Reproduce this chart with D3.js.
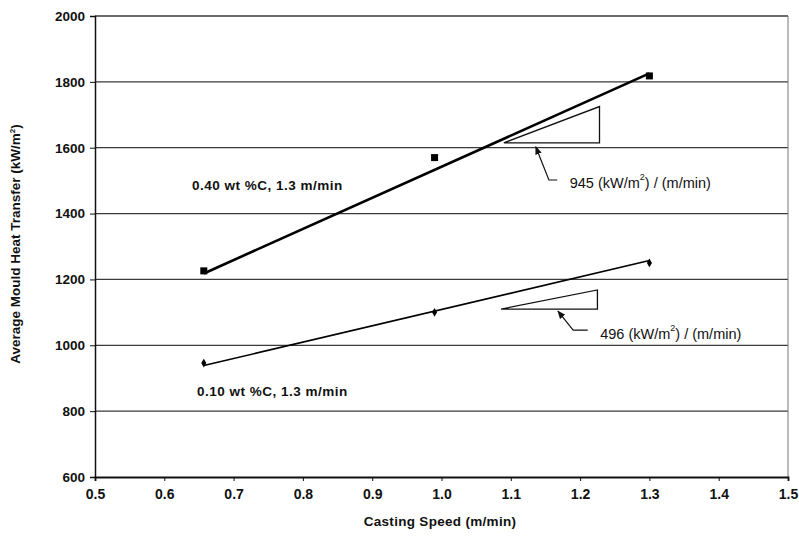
<!DOCTYPE html>
<html>
<head>
<meta charset="utf-8">
<script src="https://cdn.jsdelivr.net/npm/d3@7"></script>
<style>
  html, body { margin: 0; padding: 0; background: #fff; }
  svg { display: block; font-family: "Liberation Sans", Arial, sans-serif; }
</style>
</head>
<body>
<svg id="chart" width="799" height="537"></svg>
<script>
// Casting speed (m/min) and average mould heat transfer (kW/m2)
const speedsHighC = [0.657, 0.99, 1.30];
const fluxHighC   = [1226, 1570, 1818];
const speedsLowC  = [0.657, 0.99, 1.30];
const fluxLowC    = [946, 1100, 1250];
const slopeHighC  = 945;   // (kW/m2)/(m/min)
const slopeLowC   = 496;
const xTicks = [0.5, 0.6, 0.7, 0.8, 0.9, 1.0, 1.1, 1.2, 1.3, 1.4, 1.5];
const yTicks = [600, 800, 1000, 1200, 1400, 1600, 1800, 2000];
const seriesLabels = ["0.40 wt %C, 1.3 m/min", "0.10 wt %C, 1.3 m/min"];

const svg = d3.select("#chart");
const margin = { left: 95, right: 11, top: 16, bottom: 60 };
const W = 799, H = 537;
const x = d3.scaleLinear().domain([0.5, 1.5]).range([margin.left, W - margin.right]);
const y = d3.scaleLinear().domain([600, 2000]).range([H - margin.bottom, margin.top]);

// horizontal gridlines
svg.append("g").selectAll("line").data(yTicks.filter(v => v > 600)).join("line")
  .attr("x1", x(0.5)).attr("x2", x(1.5))
  .attr("y1", d => y(d)).attr("y2", d => y(d))
  .attr("stroke", "#3a3a3a").attr("stroke-width", 1.3);

// right border
svg.append("line")
  .attr("x1", x(1.5)).attr("x2", x(1.5)).attr("y1", y(2000)).attr("y2", y(600))
  .attr("stroke", "#777").attr("stroke-width", 1);

// axes
const yAxis = d3.axisLeft(y).tickValues(yTicks).tickSize(5).tickPadding(5).tickFormat(d3.format("d"));
const gy = svg.append("g").attr("transform", `translate(${x(0.5)},0)`).call(yAxis);
gy.select(".domain").attr("stroke", "#111").attr("stroke-width", 1.5);
gy.selectAll(".tick line").attr("stroke", "#111");
gy.selectAll("text").attr("font-size", 13.5).attr("font-weight", "bold").attr("fill", "#111");

const xAxis = d3.axisBottom(x).tickValues(xTicks).tickSize(4).tickPadding(8).tickFormat(d3.format(".1f"));
const gx = svg.append("g").attr("transform", `translate(0,${y(600)})`).call(xAxis);
gx.select(".domain").attr("stroke", "#111").attr("stroke-width", 1.8);
gx.selectAll(".tick line").attr("stroke", "#111");
gx.selectAll("text").attr("font-size", 14).attr("font-weight", "bold").attr("fill", "#111");

// axis titles
svg.append("text").attr("x", 440).attr("y", 526).attr("text-anchor", "middle")
  .attr("font-size", 13.5).attr("font-weight", "bold").attr("letter-spacing", 0.3).attr("fill", "#111")
  .text("Casting Speed (m/min)");
const yt = svg.append("text").attr("transform", `translate(20,244) rotate(-90)`)
  .attr("text-anchor", "middle").attr("font-size", 13.5).attr("font-weight", "bold").attr("fill", "#111");
yt.append("tspan").text("Average Mould Heat Transfer (kW/m");
yt.append("tspan").attr("dy", -5).attr("font-size", 8).text("2");
yt.append("tspan").attr("dy", 5).text(")");

// trend line of the given slope, centred between the first and last points
function trend(xs, ys, slope) {
  const x0 = d3.min(xs), x1 = d3.max(xs);
  const mx = (x0 + x1) / 2, my = (ys[0] + ys[ys.length - 1]) / 2;
  return [[x0, my + slope * (x0 - mx)], [x1, my + slope * (x1 - mx)]];
}
const line = d3.line().x(d => x(d[0])).y(d => y(d[1]));

svg.append("path").attr("d", line(trend(speedsHighC, fluxHighC, slopeHighC)))
  .attr("fill", "none").attr("stroke", "#000").attr("stroke-width", 2.6);
svg.append("path").attr("d", line(trend(speedsLowC, fluxLowC, slopeLowC)))
  .attr("fill", "none").attr("stroke", "#000").attr("stroke-width", 1.6);

// markers
svg.append("g").selectAll("rect").data(d3.zip(speedsHighC, fluxHighC)).join("rect")
  .attr("x", d => x(d[0]) - 3.5).attr("y", d => y(d[1]) - 3.5)
  .attr("width", 7).attr("height", 7).attr("fill", "#000");
svg.append("g").selectAll("path").data(d3.zip(speedsLowC, fluxLowC)).join("path")
  .attr("transform", d => `translate(${x(d[0])},${y(d[1])})`)
  .attr("d", d3.symbol(d3.symbolDiamond, 22)).attr("fill", "#000");

// slope triangles
const triHigh = [[1.09, 1615], [1.228, 1725], [1.228, 1615]];
const triLow  = [[1.086, 1110], [1.225, 1168], [1.225, 1110]];
[triHigh, triLow].forEach(t => {
  svg.append("path").attr("d", line(t) + "Z")
    .attr("fill", "none").attr("stroke", "#111").attr("stroke-width", 1.3);
});

// leader lines with arrowheads
svg.append("defs").append("marker").attr("id", "arr")
  .attr("viewBox", "0 0 10 10").attr("refX", 9).attr("refY", 5)
  .attr("markerWidth", 7).attr("markerHeight", 7).attr("orient", "auto-start-reverse")
  .append("path").attr("d", "M0,1 L10,5 L0,9 Z").attr("fill", "#111");

const leaders = [
  [[1.167, 1502], [1.155, 1502], [1.136, 1603]],
  [[1.211, 1046], [1.190, 1046], [1.168, 1104]]
];
leaders.forEach(p => {
  svg.append("path").attr("d", line(p)).attr("fill", "none")
    .attr("stroke", "#111").attr("stroke-width", 1.2).attr("marker-end", "url(#arr)");
});

// slope annotations
function slopeLabel(px, py, value) {
  const t = svg.append("text").attr("x", x(px)).attr("y", y(py))
    .attr("dominant-baseline", "middle").attr("font-size", 14.5).attr("fill", "#111");
  t.append("tspan").text(value + " (kW/m");
  t.append("tspan").attr("dy", -6).attr("font-size", 9).text("2");
  t.append("tspan").attr("dy", 6).text(") / (m/min)");
}
slopeLabel(1.185, 1491, slopeHighC);
slopeLabel(1.229, 1031, slopeLowC);

// series labels
svg.append("text").attr("x", 192).attr("y", 186).attr("dominant-baseline", "middle")
  .attr("font-size", 13.5).attr("font-weight", "bold").attr("letter-spacing", 0.5)
  .attr("fill", "#111").text(seriesLabels[0]);
svg.append("text").attr("x", 197).attr("y", 392).attr("dominant-baseline", "middle")
  .attr("font-size", 13.5).attr("font-weight", "bold").attr("letter-spacing", 0.5)
  .attr("fill", "#111").text(seriesLabels[1]);
</script>
</body>
</html>
